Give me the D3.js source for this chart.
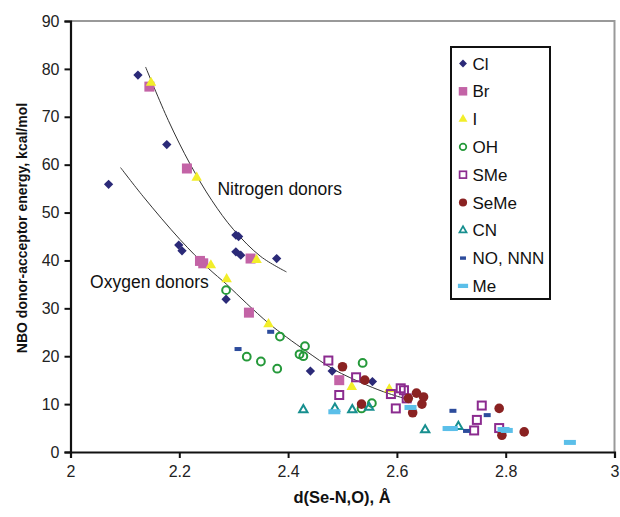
<!DOCTYPE html>
<html><head><meta charset="utf-8">
<script src="https://cdn.jsdelivr.net/npm/d3@7"></script>
<style>body{margin:0;background:#fff;}svg{display:block;font-family:Arial,"Liberation Sans",sans-serif;}</style>
</head><body><svg id="c" width="620" height="517"></svg>
<script>
// ---- data ----
const xTicks = [2, 2.2, 2.4, 2.6, 2.8, 3];
const yTicks = [0, 10, 20, 30, 40, 50, 60, 70, 80, 90];
const seriesNames = ["Cl", "Br", "I", "OH", "SMe", "SeMe", "CN", "NO, NNN", "Me"];
const clX = [2.124, 2.177, 2.070, 2.199, 2.205, 2.304, 2.309, 2.304, 2.313, 2.379, 2.286, 2.441, 2.481, 2.555];
const clY = [78.7, 64.2, 55.9, 43.2, 42.0, 45.3, 45.0, 41.8, 41.1, 40.4, 31.9, 16.9, 16.9, 14.7];
const brX = [2.145, 2.214, 2.238, 2.244, 2.331, 2.328, 2.494];
const brY = [76.3, 59.2, 39.9, 39.4, 40.4, 29.1, 15.0];
const iX = [2.148, 2.232, 2.258, 2.342, 2.287, 2.364, 2.517, 2.586];
const iY = [77.1, 57.3, 39.0, 40.1, 36.1, 26.7, 13.6, 13.1];
const ohX = [2.286, 2.385, 2.324, 2.350, 2.380, 2.431, 2.421, 2.428, 2.537, 2.554, 2.535];
const ohY = [33.8, 24.1, 19.9, 18.9, 17.4, 22.1, 20.4, 20.0, 18.6, 10.2, 9.1];
const smeX = [2.474, 2.525, 2.494, 2.589, 2.607, 2.613, 2.598, 2.618, 2.756, 2.747, 2.742, 2.788];
const smeY = [19.1, 15.6, 11.9, 12.1, 13.3, 12.9, 9.1, 11.2, 9.7, 6.7, 4.5, 5.0];
const semeX = [2.500, 2.541, 2.535, 2.621, 2.636, 2.649, 2.646, 2.629, 2.788, 2.793, 2.834];
const semeY = [17.8, 15.0, 10.0, 11.2, 12.3, 11.5, 10.0, 8.2, 9.1, 3.5, 4.2];
const cnX = [2.428, 2.486, 2.518, 2.549, 2.652, 2.713];
const cnY = [8.8, 9.1, 8.8, 9.3, 4.6, 5.3];
const noX = [2.308, 2.368, 2.703, 2.766, 2.728];
const noY = [21.5, 25.1, 8.6, 7.7, 4.4];
const meX = [2.485, 2.625, 2.695, 2.701, 2.796, 2.802, 2.918];
const meY = [8.4, 9.3, 4.9, 4.9, 4.7, 4.5, 2.0];
// trendlines
const nTrendX = [2.138, 2.18, 2.22, 2.26, 2.30, 2.35, 2.397];
const nTrendY = [80.4, 69.2, 60.1, 52.5, 46.4, 40.8, 37.6];
const oTrendX = [2.092, 2.134, 2.201, 2.253, 2.287, 2.324, 2.364, 2.397, 2.434, 2.483, 2.544, 2.585, 2.620];
const oTrendY = [59.4, 53.3, 44.4, 38.4, 35.0, 31.0, 26.9, 24.0, 21.0, 17.3, 14.0, 12.2, 11.0];
const labels = ["Nitrogen donors", "Oxygen donors"];
const xTitle = "d(Se-N,O), Å";
const yTitle = "NBO donor-acceptor energy, kcal/mol";

// ---- layout ----
const L = 70.5, R = 614.5, T = 21, B = 452;
const svg = d3.select("#c");
const x = d3.scaleLinear().domain([2, 3]).range([L, R]);
const y = d3.scaleLinear().domain([0, 90]).range([B, T]);

// frame (top/right grey)
svg.append("path").attr("d", `M${L},${T}H${R}V${B}`).attr("fill", "none").attr("stroke", "#999").attr("stroke-width", 2);

// axes
const yAxis = svg.append("g").attr("transform", `translate(${L},0)`)
  .call(d3.axisLeft(y).tickValues(yTicks).tickSize(6).tickPadding(5).tickFormat(d3.format("d")));
const xAxis = svg.append("g").attr("transform", `translate(0,${B})`)
  .call(d3.axisBottom(x).tickValues(xTicks).tickSize(6).tickPadding(8).tickFormat(d => d3.format("")(d)));
[xAxis, yAxis].forEach(g => {
  g.select(".domain").attr("stroke", "#111").attr("stroke-width", 2.2);
  g.selectAll(".tick line").attr("stroke", "#111").attr("stroke-width", 2);
  g.selectAll(".tick text").attr("fill", "#222").style("font-size", "16px").style("font-family", "Arial, 'Liberation Sans', sans-serif");
});

// trendlines
const line = d3.line().x(d => x(d[0])).y(d => y(d[1])).curve(d3.curveCatmullRom);
svg.append("path").attr("d", line(d3.zip(nTrendX, nTrendY))).attr("fill", "none").attr("stroke", "#333").attr("stroke-width", 1);
svg.append("path").attr("d", line(d3.zip(oTrendX, oTrendY))).attr("fill", "none").attr("stroke", "#333").attr("stroke-width", 1);

// markers
const sym = {
  Cl:   g => g.append("path").attr("d", d3.symbol(d3.symbolDiamond2, 55)()).attr("fill", "#2b2a78"),
  Br:   g => g.append("rect").attr("x", -5).attr("y", -5).attr("width", 10).attr("height", 10).attr("fill", "#c363a6"),
  I:    g => g.append("path").attr("d", d3.symbol(d3.symbolTriangle, 48)()).attr("fill", "#f2ee2a"),
  OH:   g => g.append("circle").attr("r", 3.9).attr("fill", "none").attr("stroke", "#25993a").attr("stroke-width", 2),
  SMe:  g => g.append("rect").attr("x", -4).attr("y", -4).attr("width", 8).attr("height", 8).attr("fill", "none").attr("stroke", "#8b2b8f").attr("stroke-width", 2),
  SeMe: g => g.append("circle").attr("r", 4.8).attr("fill", "#8a2222"),
  CN:   g => g.append("path").attr("d", d3.symbol(d3.symbolTriangle, 30)()).attr("fill", "none").attr("stroke", "#178f8f").attr("stroke-width", 2),
  "NO, NNN": g => g.append("rect").attr("x", -3.5).attr("y", -2).attr("width", 7).attr("height", 4).attr("fill", "#2d4c9c"),
  Me:   g => g.append("rect").attr("x", -6).attr("y", -2.5).attr("width", 12).attr("height", 5).attr("fill", "#5bbfe9")
};
const allX = [clX, brX, iX, ohX, smeX, semeX, cnX, noX, meX];
const allY = [clY, brY, iY, ohY, smeY, semeY, cnY, noY, meY];
seriesNames.forEach((name, si) => {
  const pts = d3.zip(allX[si], allY[si]);
  svg.append("g").selectAll("g").data(pts).join("g")
    .attr("transform", d => `translate(${x(d[0])},${y(d[1])})`)
    .each(function () { sym[name](d3.select(this)); });
});

// curve labels
svg.append("text").attr("x", x(2.27)).attr("y", y(53.6)).attr("font-size", 17.5).attr("fill", "#111").text(labels[0]);
svg.append("text").attr("x", x(2.036)).attr("y", y(34.3)).attr("font-size", 17.5).attr("fill", "#111").text(labels[1]);

// legend
const lg = svg.append("g").attr("transform", "translate(451,47)");
lg.append("rect").attr("width", 99).attr("height", 252).attr("fill", "#fff").attr("stroke", "#111").attr("stroke-width", 2);
seriesNames.forEach((name, i) => {
  const row = lg.append("g").attr("transform", `translate(12,${16.5 + i * 27.8})`);
  const m = row.append("g").attr("transform", "scale(0.85)");
  sym[name](m);
  row.append("text").attr("x", 9.5).attr("y", 6).attr("font-size", 17).attr("fill", "#111").text(name);
});

// axis titles
svg.append("text").attr("x", 342).attr("y", 503).attr("text-anchor", "middle")
  .attr("font-size", 16.5).attr("font-weight", "bold").attr("fill", "#111").text(xTitle);
svg.append("text").attr("transform", `translate(27,228) rotate(-90)`).attr("text-anchor", "middle")
  .attr("font-size", 14).attr("font-weight", "bold").attr("fill", "#111").text(yTitle);
</script></body></html>
